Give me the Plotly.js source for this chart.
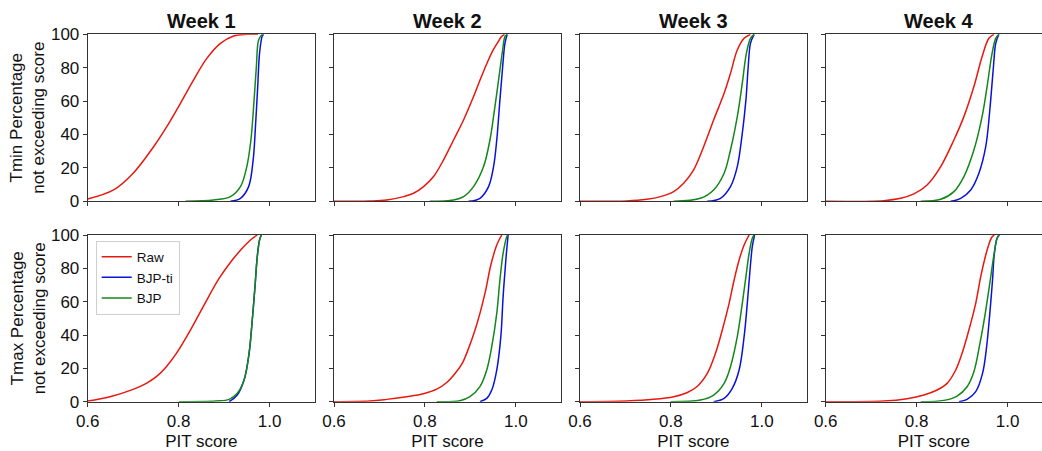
<!DOCTYPE html>
<html>
<head>
<meta charset="utf-8">
<script src="https://cdn.plot.ly/plotly-3.0.1.min.js"></script>
<style>html,body{margin:0;padding:0;background:#fff}#chart{width:1042px;height:451px}</style>
</head>
<body>
<div id="chart"></div>
<script>
// ---- labels ----
const weeks = ["Week 1", "Week 2", "Week 3", "Week 4"];
const variables = ["Tmin", "Tmax"];
const seriesNames = ["Raw", "BJP-ti", "BJP"];
const xTickVals = [0.6, 0.8, 1.0];
const xTickText = ["0.6", "0.8", "1.0"];
const yTickVals = [0, 20, 40, 60, 80, 100];

// ---- Tmin (top row) ----
const tminW1RawX = [0.6,0.657,0.70,0.745,0.774,0.804,0.833,0.862,0.892,0.921,0.95,0.975];
const tminW1RawY = [1.4,6.8,16.8,32.7,44.7,58.7,72.7,85.6,94.6,99,100,100];
const tminW1TiX = [0.914,0.936,0.954,0.964,0.969,0.974,0.978,0.984,0.987];
const tminW1TiY = [0,1.8,8.8,24.8,44.7,68.7,88.6,99,100];
const tminW1BjpX = [0.815,0.877,0.914,0.936,0.95,0.959,0.965,0.971,0.976,0.984];
const tminW1BjpY = [0,0.8,2.8,8.8,20.8,36.7,56.7,80.6,96.6,100];

const tminW2RawX = [0.6,0.679,0.716,0.753,0.775,0.797,0.819,0.841,0.863,0.885,0.907,0.921,0.937,0.950,0.960,0.968,0.975];
const tminW2RawY = [0,0.2,0.8,2.8,4.8,8.8,14.8,24.8,36.7,48.7,62.7,72.5,83,90.5,95,98.5,100];
const tminW2TiX = [0.896,0.921,0.940,0.951,0.958,0.965,0.971,0.976,0.981];
const tminW2TiY = [0,1.8,8.8,20.8,36.7,60.7,80.6,94.6,100];
const tminW2BjpX = [0.811,0.863,0.885,0.907,0.929,0.943,0.954,0.964,0.971,0.976,0.981];
const tminW2BjpY = [0,0.8,2.8,8.8,20.8,36.7,56.7,76.6,90.6,98.6,100];

const tminW3RawX = [0.6,0.703,0.747,0.777,0.806,0.828,0.850,0.872,0.894,0.917,0.931,0.946,0.961,0.975];
const tminW3RawY = [0,0.2,1.2,2.8,5.8,10.8,18.8,32.7,48.7,64.7,76.6,90.6,97.6,100];
const tminW3TiX = [0.880,0.909,0.931,0.946,0.957,0.965,0.970,0.975,0.983];
const tminW3TiY = [0,1.8,8.8,20.8,40.7,60.7,80.6,94.6,100];
const tminW3BjpX = [0.806,0.865,0.894,0.917,0.931,0.946,0.957,0.966,0.975,0.983];
const tminW3BjpY = [0,1.8,6.8,16.8,30.7,50.7,70.7,88.6,97.6,100];

const tminW4RawX = [0.6,0.728,0.765,0.794,0.823,0.853,0.882,0.904,0.926,0.944,0.959,0.970];
const tminW4RawY = [0,0.4,1.8,4.4,9.8,20.8,36.7,50.7,68.7,86.6,97.6,100];
const tminW4TiX = [0.875,0.897,0.919,0.937,0.952,0.961,0.969,0.974,0.981];
const tminW4TiY = [0,1.8,6.8,16.8,32.7,54.7,80.6,94.6,100];
const tminW4BjpX = [0.809,0.853,0.882,0.904,0.926,0.944,0.955,0.966,0.974,0.981];
const tminW4BjpY = [0,1.2,5.8,14.8,30.7,50.7,68.7,88.6,97.6,100];

// ---- Tmax (bottom row) ----
const tmaxW1RawX = [0.6,0.649,0.700,0.729,0.751,0.773,0.795,0.826,0.855,0.888,0.915,0.940,0.958,0.973];
const tmaxW1RawY = [0.4,3,7.4,11,15,21,29,43,57.5,73.5,84,92,97,100];
const tmaxW1TiX = [0.911,0.929,0.944,0.955,0.962,0.968,0.973,0.978,0.982];
const tmaxW1TiY = [0,4,13,29,49,69,87,97,100];
const tmaxW1BjpX = [0.801,0.882,0.911,0.929,0.944,0.955,0.962,0.968,0.973,0.978,0.982];
const tmaxW1BjpY = [0,0.4,1.4,5,13,29,49,69,87,97,100];

const tmaxW2RawX = [0.6,0.679,0.716,0.760,0.797,0.826,0.848,0.868,0.883,0.896,0.909,0.921,0.933,0.945,0.958,0.969];
const tmaxW2RawY = [0,0.4,1.4,3,4.8,7.5,11.5,17.5,23.5,32,42,53,66,82,94,100];
const tmaxW2TiX = [0.921,0.936,0.947,0.958,0.967,0.972,0.978,0.983];
const tmaxW2TiY = [0,2,7,19,39,63,85,100];
const tmaxW2BjpX = [0.826,0.877,0.899,0.921,0.936,0.947,0.958,0.965,0.972,0.980,0.982];
const tmaxW2BjpY = [0,0.6,3,9,19,33,53,73,89,99,100];

const tmaxW3RawX = [0.6,0.703,0.762,0.806,0.835,0.857,0.880,0.898,0.913,0.928,0.939,0.950,0.961,0.972];
const tmaxW3RawY = [0,0.4,1.4,3,5.4,9,17,29,43,59,73,85,94,100];
const tmaxW3TiX = [0.894,0.917,0.935,0.950,0.961,0.968,0.974,0.979,0.984];
const tmaxW3TiY = [0,2,8,19,39,59,79,93,100];
const tmaxW3BjpX = [0.799,0.865,0.894,0.917,0.931,0.946,0.957,0.965,0.972,0.979,0.983];
const tmaxW3BjpY = [0,1,4,11,21,39,59,75,89,98,100];

const tmaxW4RawX = [0.6,0.728,0.779,0.816,0.845,0.867,0.886,0.900,0.915,0.930,0.941,0.952,0.959,0.965,0.971];
const tmaxW4RawY = [0,0.4,1.8,4,7,11,19,29,43,59,75,88,94.5,98.5,100];
const tmaxW4TiX = [0.893,0.911,0.930,0.945,0.954,0.961,0.967,0.971,0.977,0.982];
const tmaxW4TiY = [0,1.4,6,17,33,53,73,89,98,100];
const tmaxW4BjpX = [0.809,0.860,0.889,0.911,0.926,0.940,0.951,0.962,0.970,0.977,0.981];
const tmaxW4BjpY = [0,0.8,3.4,9,18,36,53,73,88,98,100];

// ---- assemble ----
const panels = [
  [[tminW1RawX,tminW1RawY],[tminW1TiX,tminW1TiY],[tminW1BjpX,tminW1BjpY]],
  [[tminW2RawX,tminW2RawY],[tminW2TiX,tminW2TiY],[tminW2BjpX,tminW2BjpY]],
  [[tminW3RawX,tminW3RawY],[tminW3TiX,tminW3TiY],[tminW3BjpX,tminW3BjpY]],
  [[tminW4RawX,tminW4RawY],[tminW4TiX,tminW4TiY],[tminW4BjpX,tminW4BjpY]],
  [[tmaxW1RawX,tmaxW1RawY],[tmaxW1TiX,tmaxW1TiY],[tmaxW1BjpX,tmaxW1BjpY]],
  [[tmaxW2RawX,tmaxW2RawY],[tmaxW2TiX,tmaxW2TiY],[tmaxW2BjpX,tmaxW2BjpY]],
  [[tmaxW3RawX,tmaxW3RawY],[tmaxW3TiX,tmaxW3TiY],[tmaxW3BjpX,tmaxW3BjpY]],
  [[tmaxW4RawX,tmaxW4RawY],[tmaxW4TiX,tmaxW4TiY],[tmaxW4BjpX,tmaxW4BjpY]]
];
const colors = ["#e8180f", "#0a12d8", "#13871a"];
const FONT = "Liberation Sans, Arial, Helvetica, sans-serif";
const W = 1042, H = 451;
const colPx = [[87.7, 315], [334, 561], [580, 806.7], [825.7, 1042]];
const rowPx = [[34.3, 201.3], [235, 401.7]];
const pxPerUnit = (315 - 87.7) / 0.5;

const traces = [];
panels.forEach((p, i) => {
  const n = i + 1;
  p.forEach((s, k) => {
    traces.push({
      x: s[0], y: s[1], type: "scatter", mode: "lines",
      name: seriesNames[k], legendgroup: seriesNames[k],
      showlegend: i === 4,
      line: {color: colors[k], width: 1.5, shape: "spline", smoothing: 1.0},
      xaxis: "x" + (n === 1 ? "" : n), yaxis: "y" + (n === 1 ? "" : n),
      hoverinfo: "skip"
    });
  });
});

const layout = {
  width: W, height: H,
  margin: {l: 0, r: 0, t: 0, b: 0},
  paper_bgcolor: "#fff", plot_bgcolor: "#fff",
  font: {family: FONT, color: "#111", size: 16},
  showlegend: true,
  legend: {
    x: 95.7 / W, y: 1 - 240.5 / H, xanchor: "left", yanchor: "top",
    bgcolor: "#fff", bordercolor: "#cfcfcf", borderwidth: 1,
    font: {family: FONT, size: 13.5, color: "#111"},
    tracegroupgap: 0, itemwidth: 30
  },
  annotations: []
};

for (let r = 0; r < 2; r++) {
  for (let c = 0; c < 4; c++) {
    const n = r * 4 + c + 1;
    const sfx = n === 1 ? "" : n;
    const xr = [0.6, 0.6 + (colPx[c][1] - colPx[c][0]) / pxPerUnit];
    layout["xaxis" + sfx] = {
      domain: [colPx[c][0] / W, colPx[c][1] / W],
      anchor: "y" + sfx, range: xr,
      tickvals: xTickVals, ticktext: xTickText,
      showticklabels: r === 1,
      ticks: "outside", ticklen: 4, tickwidth: 1, tickcolor: "#333",
      showline: true, mirror: true, linecolor: "#333", linewidth: 1,
      showgrid: false, zeroline: false,
      tickfont: {family: FONT, size: 17, color: "#111"},
      title: r === 1 ? {text: "PIT score", font: {family: FONT, size: 17, color: "#111"}, standoff: 6} : {text: ""},
      fixedrange: true
    };
    layout["yaxis" + sfx] = {
      domain: [1 - rowPx[r][1] / H, 1 - rowPx[r][0] / H],
      anchor: "x" + sfx, range: [0, 100],
      tickvals: yTickVals,
      showticklabels: c === 0,
      ticks: "outside", ticklen: 4, tickwidth: 1, tickcolor: "#333",
      showline: true, mirror: true, linecolor: "#333", linewidth: 1,
      showgrid: false, zeroline: false,
      tickfont: {family: FONT, size: 17, color: "#111"},
      fixedrange: true
    };
  }
}

// column titles
weeks.forEach((w, c) => {
  layout.annotations.push({
    text: "<b>" + w + "</b>", xref: "paper", yref: "paper",
    x: (colPx[c][0] + Math.min(colPx[c][0] + 227.3, 1052)) / 2 / W,
    y: 1 - 21 / H, xanchor: "center", yanchor: "middle", showarrow: false,
    font: {family: FONT, size: 20, color: "#111"}
  });
});
// row (y-axis) titles
variables.forEach((v, r) => {
  layout.annotations.push({
    text: v + " Percentage<br>not exceeding score", xref: "paper", yref: "paper",
    x: 28 / W, y: 1 - (rowPx[r][0] + rowPx[r][1]) / 2 / H,
    xanchor: "center", yanchor: "middle", textangle: -90, showarrow: false,
    font: {family: FONT, size: 17, color: "#111"}
  });
});

Plotly.newPlot("chart", traces, layout, {displayModeBar: false, staticPlot: true});
</script>
</body>
</html>
